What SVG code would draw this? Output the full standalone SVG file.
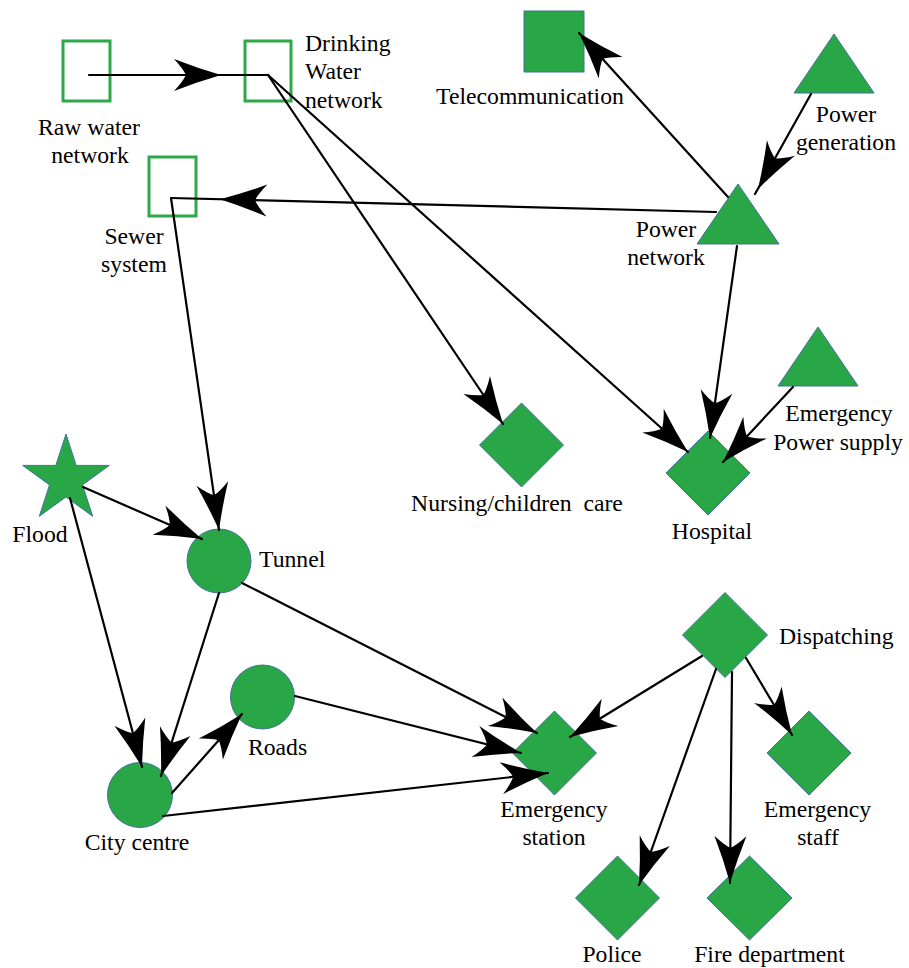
<svg xmlns="http://www.w3.org/2000/svg" xmlns:xlink="http://www.w3.org/1999/xlink" width="909" height="968" viewBox="0 0 909 968">
  <style>
    .bg { fill: #ffffff; }
    .solid { fill: #29A646; stroke: #41719C; stroke-width: 1; }
    .hollow { fill: none; stroke: #2DA84A; stroke-width: 3; }
    .edge { fill: none; stroke: #000000; stroke-width: 2.2; stroke-linecap: round; }
    .head { fill: #000000; stroke: none; }
    text { font-family: "Liberation Serif", "Times New Roman", serif; font-size: 23.7px; fill: #000000; }
    .c { text-anchor: middle; }
    .l { text-anchor: start; }
  </style>
  <defs>
    <!-- barbed arrowhead, tip at origin, pointing along +x -->
    <path id="ah" class="head" d="M0,0 Q-24,-7 -47,-16 Q-38.5,-7 -35,0 Q-38.5,7 -47,16 Q-24,7 0,0 Z"/>
  </defs>

  <rect class="bg" x="0" y="0" width="909" height="968"/>

  <!-- nodes -->
  <g id="raw-water">
    <rect class="hollow" x="63" y="41" width="47" height="60"/>
    <text class="c" x="89" y="135">Raw water</text>
    <text class="c" x="90" y="163">network</text>
  </g>
  <g id="drinking-water">
    <rect class="hollow" x="245" y="41" width="46" height="60"/>
    <text class="l" x="305" y="51">Drinking</text>
    <text class="l" x="305" y="79">Water</text>
    <text class="l" x="305" y="108">network</text>
  </g>
  <g id="sewer">
    <rect class="hollow" x="149" y="157" width="47" height="59"/>
    <text class="c" x="134" y="244">Sewer</text>
    <text class="c" x="134" y="272">system</text>
  </g>
  <g id="telecom">
    <rect class="solid" x="524" y="11" width="60" height="61"/>
    <text class="c" x="530" y="104">Telecommunication</text>
  </g>
  <g id="power-generation">
    <polygon class="solid" points="834,34 874,93 794,93"/>
    <text class="c" x="846" y="122">Power</text>
    <text class="c" x="846" y="150">generation</text>
  </g>
  <g id="power-network">
    <polygon class="solid" points="738,184 779,244 697,244"/>
    <text class="c" x="666" y="237">Power</text>
    <text class="c" x="666" y="265">network</text>
  </g>
  <g id="emergency-power">
    <polygon class="solid" points="818,327 858,386 778,386"/>
    <text class="c" x="839" y="421">Emergency</text>
    <text class="c" x="838" y="450">Power supply</text>
  </g>
  <g id="nursing">
    <polygon class="solid" points="521.5,403 563.5,445 521.5,487 479.5,445"/>
    <text class="c" x="517" y="511" xml:space="preserve">Nursing/children  care</text>
  </g>
  <g id="hospital">
    <polygon class="solid" points="708,431 750,473 708,515 666,473"/>
    <text class="c" x="712" y="539">Hospital</text>
  </g>
  <g id="flood">
    <polygon class="solid" points="66,434 76.2,465.4 109.3,465.4 82.5,484.9 92.7,516.3 66,496.9 39.3,516.3 49.5,484.9 22.7,465.4 55.8,465.4"/>
    <text class="c" x="40" y="542">Flood</text>
  </g>
  <g id="tunnel">
    <circle class="solid" cx="219" cy="561" r="32"/>
    <text class="l" x="259" y="567">Tunnel</text>
  </g>
  <g id="roads">
    <circle class="solid" cx="262.5" cy="697" r="32"/>
    <text class="c" x="277.5" y="755">Roads</text>
  </g>
  <g id="city-centre">
    <circle class="solid" cx="140" cy="795" r="32.5"/>
    <text class="c" x="137" y="850">City centre</text>
  </g>
  <g id="emergency-station">
    <polygon class="solid" points="554.5,711 596.5,753 554.5,795 512.5,753"/>
    <text class="c" x="554" y="817">Emergency</text>
    <text class="c" x="554" y="845">station</text>
  </g>
  <g id="dispatching">
    <polygon class="solid" points="725,592.5 767.5,635 725,677.5 682.5,635"/>
    <text class="l" x="779" y="644">Dispatching</text>
  </g>
  <g id="emergency-staff">
    <polygon class="solid" points="809,711 851,753 809,795 767,753"/>
    <text class="c" x="817.5" y="817">Emergency</text>
    <text class="c" x="818" y="845">staff</text>
  </g>
  <g id="police">
    <polygon class="solid" points="617.5,856 659.5,898 617.5,940 575.5,898"/>
    <text class="c" x="612" y="962">Police</text>
  </g>
  <g id="fire-department">
    <polygon class="solid" points="749.5,856 792,898 749.5,940 707,898"/>
    <text class="c" x="769.5" y="962">Fire department</text>
  </g>

  <!-- connectors: line plus arrowhead placed at its tip -->
  <g id="connectors">
    <line class="edge" x1="89" y1="75" x2="268" y2="75"/>
    <use xlink:href="#ah" href="#ah" transform="translate(221,75) rotate(0)"/>

    <line class="edge" x1="268" y1="75" x2="503" y2="424"/>
    <use xlink:href="#ah" href="#ah" transform="translate(503,424) rotate(56)"/>

    <line class="edge" x1="268" y1="75" x2="688" y2="452"/>
    <use xlink:href="#ah" href="#ah" transform="translate(688,452) rotate(41.9)"/>

    <line class="edge" x1="737" y1="246" x2="710" y2="438"/>
    <use xlink:href="#ah" href="#ah" transform="translate(710,438) rotate(98)"/>

    <line class="edge" x1="793" y1="387" x2="723" y2="462"/>
    <use xlink:href="#ah" href="#ah" transform="translate(723,462) rotate(133)"/>

    <line class="edge" x1="811" y1="94" x2="755" y2="194"/>
    <use xlink:href="#ah" href="#ah" transform="translate(758,189) rotate(119.2)"/>

    <line class="edge" x1="728" y1="197" x2="579" y2="33"/>
    <use xlink:href="#ah" href="#ah" transform="translate(579,33) rotate(227.7)"/>

    <line class="edge" x1="716" y1="212" x2="171" y2="198"/>
    <use xlink:href="#ah" href="#ah" transform="translate(220,199.3) rotate(181.5)"/>

    <line class="edge" x1="171" y1="198" x2="219" y2="530"/>
    <use xlink:href="#ah" href="#ah" transform="translate(219,530) rotate(81.8)"/>

    <line class="edge" x1="83" y1="487" x2="202" y2="539"/>
    <use xlink:href="#ah" href="#ah" transform="translate(202,539) rotate(23.6)"/>

    <line class="edge" x1="70" y1="498" x2="142" y2="767"/>
    <use xlink:href="#ah" href="#ah" transform="translate(142,767) rotate(75)"/>

    <line class="edge" x1="219" y1="593" x2="161" y2="776"/>
    <use xlink:href="#ah" href="#ah" transform="translate(161,776) rotate(107.6)"/>

    <line class="edge" x1="172" y1="793" x2="242" y2="714"/>
    <use xlink:href="#ah" href="#ah" transform="translate(242,714) rotate(-48.5)"/>

    <line class="edge" x1="242" y1="583" x2="537" y2="733"/>
    <use xlink:href="#ah" href="#ah" transform="translate(537,733) rotate(26.95)"/>

    <line class="edge" x1="295" y1="696" x2="521" y2="753"/>
    <use xlink:href="#ah" href="#ah" transform="translate(521,753) rotate(14.2)"/>

    <line class="edge" x1="163" y1="816" x2="548" y2="773"/>
    <use xlink:href="#ah" href="#ah" transform="translate(548,773) rotate(-6.4)"/>

    <line class="edge" x1="702" y1="656" x2="570" y2="737"/>
    <use xlink:href="#ah" href="#ah" transform="translate(570,737) rotate(148.5)"/>

    <line class="edge" x1="716" y1="669" x2="639" y2="885"/>
    <use xlink:href="#ah" href="#ah" transform="translate(639,885) rotate(109.6)"/>

    <line class="edge" x1="732" y1="672" x2="730" y2="883"/>
    <use xlink:href="#ah" href="#ah" transform="translate(730,883) rotate(90.5)"/>

    <line class="edge" x1="746" y1="658" x2="792" y2="735"/>
    <use xlink:href="#ah" href="#ah" transform="translate(792,735) rotate(59.1)"/>
  </g>
</svg>
